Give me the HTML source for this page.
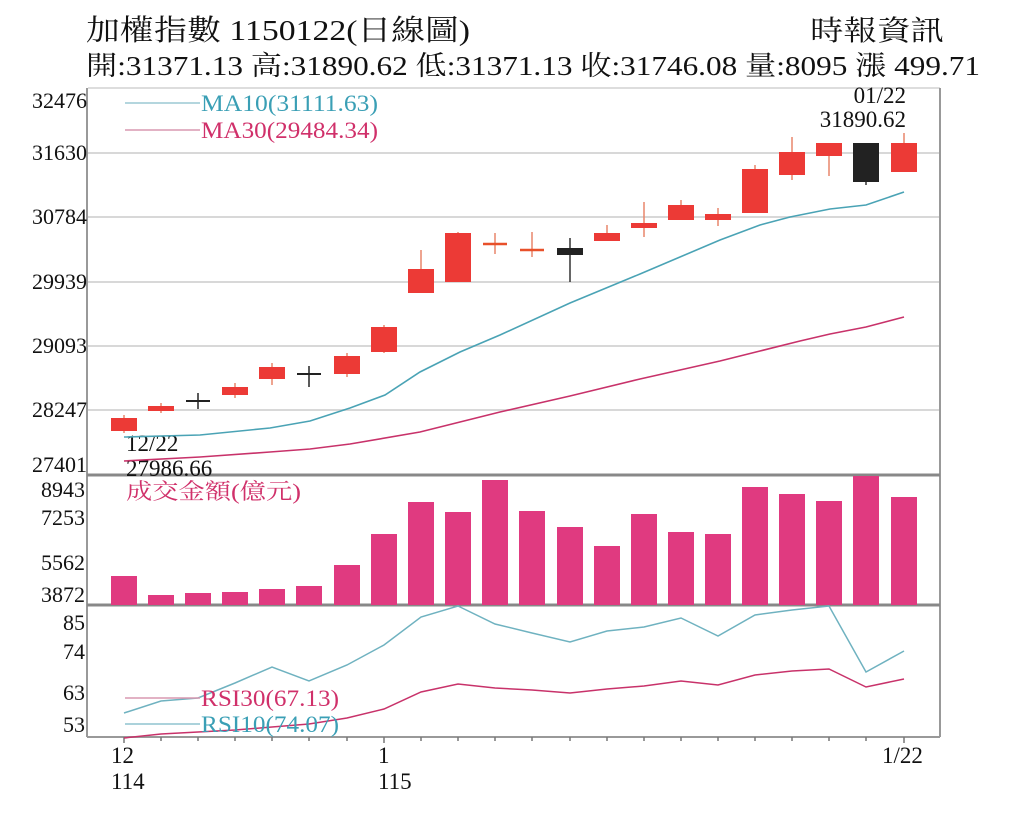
<!DOCTYPE html>
<html><head><meta charset="utf-8"><style>
html,body{margin:0;padding:0;background:#fff}
svg{display:block}
text{font-family:"Liberation Serif","Noto Serif CJK TC",serif}
</style></head><body>
<svg width="1024" height="820" viewBox="0 0 1024 820" xmlns="http://www.w3.org/2000/svg">
<rect width="1024" height="820" fill="#fff"/>
<text x="86" y="40" font-size="29" textLength="384" lengthAdjust="spacingAndGlyphs" fill="#111">加權指數 1150122(日線圖)</text>
<text x="810" y="40" font-size="28" textLength="134" lengthAdjust="spacingAndGlyphs" fill="#111">時報資訊</text>
<text x="86" y="75" font-size="27" textLength="894" lengthAdjust="spacingAndGlyphs" fill="#111">開:31371.13 高:31890.62 低:31371.13 收:31746.08 量:8095 漲 499.71</text>
<g stroke="#d8d8d8" stroke-width="2">
<line x1="88" y1="153" x2="940" y2="153"/><line x1="88" y1="217" x2="940" y2="217"/>
<line x1="88" y1="282" x2="940" y2="282"/><line x1="88" y1="346" x2="940" y2="346"/>
<line x1="88" y1="410" x2="940" y2="410"/>
</g>
<g stroke="#999" stroke-width="2" fill="none">
<line x1="88" y1="88" x2="940" y2="88" stroke="#ddd"/>
<line x1="940" y1="88" x2="940" y2="737"/>
<line x1="87" y1="88" x2="87" y2="737"/>
<line x1="87" y1="475" x2="940" y2="475" stroke="#888" stroke-width="3"/>
<line x1="87" y1="605" x2="940" y2="605" stroke="#888" stroke-width="3"/>
<line x1="87" y1="737" x2="940" y2="737"/>
</g>
<g stroke="#777" stroke-width="1.5">
<line x1="124" y1="737" x2="124" y2="743"/><line x1="161" y1="737" x2="161" y2="741"/><line x1="198" y1="737" x2="198" y2="741"/><line x1="235" y1="737" x2="235" y2="741"/><line x1="272" y1="737" x2="272" y2="741"/><line x1="309" y1="737" x2="309" y2="741"/><line x1="347" y1="737" x2="347" y2="741"/><line x1="384" y1="737" x2="384" y2="743"/><line x1="421" y1="737" x2="421" y2="741"/><line x1="458" y1="737" x2="458" y2="741"/><line x1="495" y1="737" x2="495" y2="741"/><line x1="532" y1="737" x2="532" y2="741"/><line x1="570" y1="737" x2="570" y2="741"/><line x1="607" y1="737" x2="607" y2="741"/><line x1="644" y1="737" x2="644" y2="741"/><line x1="681" y1="737" x2="681" y2="741"/><line x1="718" y1="737" x2="718" y2="741"/><line x1="755" y1="737" x2="755" y2="741"/><line x1="792" y1="737" x2="792" y2="741"/><line x1="829" y1="737" x2="829" y2="741"/><line x1="866" y1="737" x2="866" y2="741"/><line x1="904" y1="737" x2="904" y2="743"/>
</g>
<g font-size="22" fill="#111" text-anchor="end">
<text x="87" y="108">32476</text><text x="87" y="160">31630</text><text x="87" y="224">30784</text>
<text x="87" y="289">29939</text><text x="87" y="353">29093</text><text x="87" y="417">28247</text>
<text x="87" y="472">27401</text>
<text x="85" y="497">8943</text><text x="85" y="525">7253</text><text x="85" y="570">5562</text><text x="85" y="602">3872</text>
<text x="85" y="630">85</text><text x="85" y="659">74</text><text x="85" y="700">63</text><text x="85" y="732">53</text>
</g>
<g font-size="23" fill="#111">
<text x="111" y="763">12</text><text x="111" y="789">114</text>
<text x="378" y="763">1</text><text x="378" y="789">115</text>
<text x="882" y="763">1/22</text>
<text x="126" y="451">12/22</text><text x="126" y="476">27986.66</text>
<text x="906" y="103" text-anchor="end">01/22</text><text x="906" y="127" text-anchor="end">31890.62</text>
</g>
<polyline fill="none" stroke="#4aa3b5" stroke-width="1.6" points="124,437 200,435 270,428 310,421 350,408 385,395 420,372 460,352 500,335 570,303 640,274 680,257 720,240 760,225 790,217 830,209 866,205 904,192"/>
<polyline fill="none" stroke="#c8326a" stroke-width="1.6" points="124,461 200,457 270,452 310,449 350,444 420,432 460,422 500,412 570,396 640,379 680,370 720,361 760,351 800,341 830,334 866,327 904,317"/>
<line x1="125" y1="103" x2="200" y2="103" stroke="#9cc9d3" stroke-width="1.5"/>
<line x1="125" y1="130" x2="200" y2="130" stroke="#d898b0" stroke-width="1.5"/>
<text x="201" y="111" font-size="23" textLength="177" lengthAdjust="spacingAndGlyphs" fill="#3a9fb5">MA10(31111.63)</text>
<text x="201" y="138" font-size="23" textLength="177" lengthAdjust="spacingAndGlyphs" fill="#d0306a">MA30(29484.34)</text>
<g stroke-width="1.5">
<line x1="124" y1="415" x2="124" y2="433" stroke="#e8866a"/>
<line x1="161" y1="403" x2="161" y2="413" stroke="#e8866a"/>
<line x1="198" y1="393" x2="198" y2="409" stroke="#222"/><line x1="186" y1="401" x2="210" y2="401" stroke="#222" stroke-width="2"/>
<line x1="235" y1="383" x2="235" y2="398" stroke="#e8866a"/>
<line x1="272" y1="363" x2="272" y2="385" stroke="#e8866a"/>
<line x1="309" y1="366" x2="309" y2="387" stroke="#222"/><line x1="297" y1="374" x2="321" y2="374" stroke="#222" stroke-width="2"/>
<line x1="347" y1="353" x2="347" y2="377" stroke="#e8866a"/>
<line x1="384" y1="325" x2="384" y2="353" stroke="#e8866a"/>
<line x1="421" y1="250" x2="421" y2="293" stroke="#e8866a"/>
<line x1="458" y1="232" x2="458" y2="282" stroke="#e8866a"/>
<line x1="495" y1="233" x2="495" y2="254" stroke="#e8866a"/><line x1="483" y1="244" x2="507" y2="244" stroke="#e8502a" stroke-width="2.5"/>
<line x1="532" y1="232" x2="532" y2="257" stroke="#e8866a"/><line x1="520" y1="250" x2="544" y2="250" stroke="#e8502a" stroke-width="2.5"/>
<line x1="570" y1="238" x2="570" y2="282" stroke="#333"/>
<line x1="607" y1="225" x2="607" y2="241" stroke="#e8866a"/>
<line x1="644" y1="202" x2="644" y2="237" stroke="#e8866a"/>
<line x1="681" y1="200" x2="681" y2="220" stroke="#e8866a"/>
<line x1="718" y1="208" x2="718" y2="226" stroke="#e8866a"/>
<line x1="755" y1="165" x2="755" y2="213" stroke="#e8866a"/>
<line x1="792" y1="137" x2="792" y2="180" stroke="#e8866a"/>
<line x1="829" y1="143" x2="829" y2="176" stroke="#e8866a"/>
<line x1="866" y1="143" x2="866" y2="185" stroke="#333"/>
<line x1="904" y1="133" x2="904" y2="172" stroke="#e8866a"/>
</g>
<g fill="#ec3a36">
<rect x="111" y="418" width="26" height="13"/><rect x="148" y="406" width="26" height="5"/>
<rect x="222" y="387" width="26" height="8"/><rect x="259" y="367" width="26" height="12"/>
<rect x="334" y="356" width="26" height="18"/><rect x="371" y="327" width="26" height="25"/>
<rect x="408" y="269" width="26" height="24"/><rect x="445" y="233" width="26" height="49"/>
<rect x="594" y="233" width="26" height="8"/><rect x="631" y="223" width="26" height="5"/>
<rect x="668" y="205" width="26" height="15"/><rect x="705" y="214" width="26" height="6"/>
<rect x="742" y="169" width="26" height="44"/><rect x="779" y="152" width="26" height="23"/>
<rect x="816" y="143" width="26" height="13"/><rect x="891" y="143" width="26" height="29"/>
</g>
<g fill="#222">
<rect x="557" y="248" width="26" height="7"/><rect x="853" y="143" width="26" height="39"/>
</g>
<g fill="#e03a80">
<rect x="111" y="576" width="26" height="29"/><rect x="148" y="595" width="26" height="10"/>
<rect x="185" y="593" width="26" height="12"/><rect x="222" y="592" width="26" height="13"/>
<rect x="259" y="589" width="26" height="16"/><rect x="296" y="586" width="26" height="19"/>
<rect x="334" y="565" width="26" height="40"/><rect x="371" y="534" width="26" height="71"/>
<rect x="408" y="502" width="26" height="103"/><rect x="445" y="512" width="26" height="93"/>
<rect x="482" y="480" width="26" height="125"/><rect x="519" y="511" width="26" height="94"/>
<rect x="557" y="527" width="26" height="78"/><rect x="594" y="546" width="26" height="59"/>
<rect x="631" y="514" width="26" height="91"/><rect x="668" y="532" width="26" height="73"/>
<rect x="705" y="534" width="26" height="71"/><rect x="742" y="487" width="26" height="118"/>
<rect x="779" y="494" width="26" height="111"/><rect x="816" y="501" width="26" height="104"/>
<rect x="853" y="476" width="26" height="129"/><rect x="891" y="497" width="26" height="108"/>
</g>
<text x="126" y="499" font-size="22" textLength="175" lengthAdjust="spacingAndGlyphs" fill="#d0306a">成交金額(億元)</text>
<polyline fill="none" stroke="#6fb2c0" stroke-width="1.5" points="124,713 161,701 198,698 235,683 272,667 309,681 347,665 384,645 421,617 458,606 495,624 532,633 570,642 607,631 644,627 681,618 718,636 755,615 792,610 829,606 866,672 904,651"/>
<polyline fill="none" stroke="#c8326a" stroke-width="1.5" points="124,738 161,734 198,732 235,730 272,727 309,724 347,718 384,709 421,692 458,684 495,688 532,690 570,693 607,689 644,686 681,681 718,685 755,675 792,671 829,669 866,687 904,679"/>
<line x1="125" y1="698" x2="200" y2="698" stroke="#d898b0" stroke-width="1.5"/>
<line x1="125" y1="724" x2="200" y2="724" stroke="#8fc3cf" stroke-width="1.5"/>
<text x="201" y="706" font-size="23" textLength="138" lengthAdjust="spacingAndGlyphs" fill="#d0306a">RSI30(67.13)</text>
<text x="201" y="732" font-size="23" textLength="138" lengthAdjust="spacingAndGlyphs" fill="#3a9fb5">RSI10(74.07)</text>
</svg>
</body></html>
